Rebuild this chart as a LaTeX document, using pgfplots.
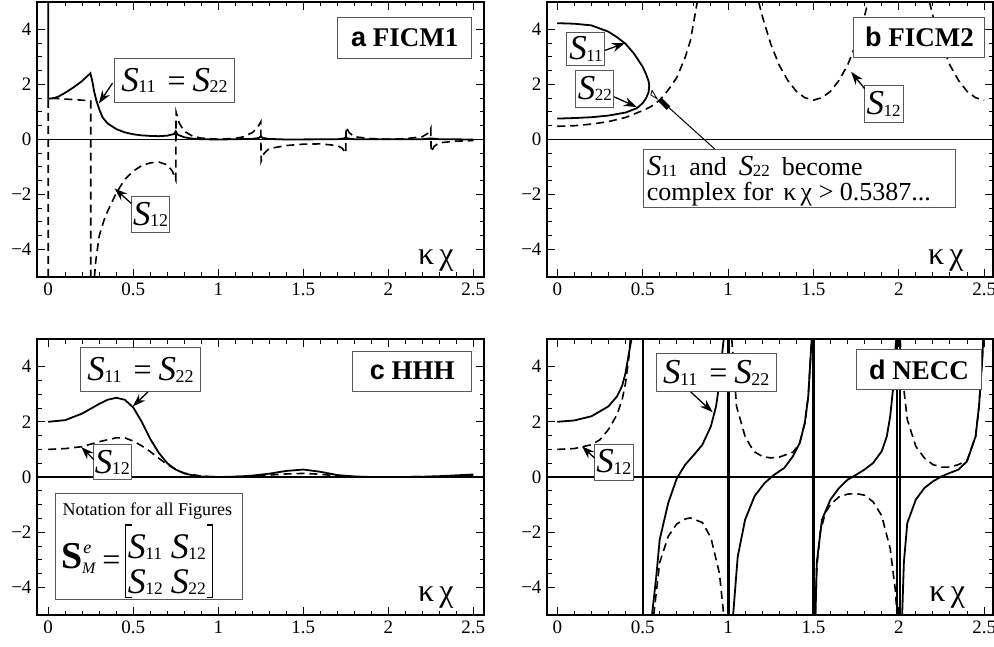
\documentclass[border=0pt]{standalone}
\usepackage{fontspec}
\setmainfont{Liberation Serif}
\newfontfamily\sansfont{Liberation Sans}
\usepackage{pgfplots}
\pgfplotsset{compat=1.18}
\usetikzlibrary{arrows.meta}

% italic S with upright subscript: #1 S size, #2 subscript size, #3 subscript
\newcommand{\Sv}[3]{{\fontsize{#1}{#1}\selectfont\textit{S}}\kern-0.5pt\raisebox{-1.5pt}{\fontsize{#2}{#2}\selectfont #3}}
\newcommand{\Seq}{\Sv{35}{18}{11}\hspace{12pt}{\fontsize{32}{32}\selectfont =}\hspace{7pt}\Sv{35}{18}{22}}
\newcommand{\kx}{{\fontsize{32}{32}\selectfont κ\,χ}}

\pgfplotsset{
 panel/.style={
  scale only axis, anchor=north west,
  xmin=-0.066, xmax=2.563, ymin=-5, ymax=5,
  xtick={0,0.5,1,1.5,2,2.5}, xticklabels={0,0.5,1,1.5,2,2.5},
  ytick={-4,-2,0,2,4}, yticklabels={−4,−2,0,2,4},
  minor x tick num=4, minor y tick num=3,
  tick align=inside, major tick length=8pt, minor tick length=4.5pt,
  tick style={black, line width=1pt},
  axis line style={line width=1.5pt},
  ticklabel style={font=\fontsize{19}{19}\selectfont},
  xticklabel style={yshift=-2pt}, yticklabel style={xshift=-2pt},
 },
}
\tikzset{
 sol/.style={black, solid, line width=1.8pt},
 das/.style={black, dash pattern=on 8pt off 5pt, line width=1.6pt},
 lbl/.style={draw=black!65, line width=1pt, fill=white, inner sep=0pt, align=center},
 arr/.style={-{Stealth[length=13pt,width=9pt]}, line width=1.3pt},
 bw/.style={anchor=base west, inner sep=0pt},
}

\begin{document}
\begin{tikzpicture}
\useasboundingbox (0,0) rectangle (994pt,-647pt);

% ---------------- a FICM1 ----------------
\begin{axis}[panel, at={(37pt,-2pt)}, width=447pt, height=275pt]
\draw[line width=1.1pt] (rel axis cs:0,0.5) -- (rel axis cs:1,0.5);
\addplot[sol] coordinates {(0,5) (0,1.48) (0.03,1.5) (0.06,1.56) (0.1,1.7) (0.15,1.9) (0.2,2.13) (0.248,2.41) (0.26,2.1) (0.27,1.75) (0.283,1.42) (0.3,1.1) (0.32,0.80) (0.35,0.58) (0.4,0.38) (0.45,0.26) (0.5,0.19) (0.55,0.15) (0.6,0.13) (0.65,0.12) (0.7,0.14) (0.74,0.2) (0.75,0.3) (0.76,0.18) (0.8,0.08) (0.85,0.03) (0.9,0.01) (1.0,0.0) (1.2,0.02) (1.24,0.06) (1.25,0.12) (1.26,0.06) (1.3,0.02) (1.4,0.0) (1.7,0.01) (1.74,0.04) (1.75,0.08) (1.76,0.04) (1.8,0.01) (2.2,0.01) (2.25,0.04) (2.3,0.01) (2.5,0.0)};
\addplot[das] coordinates {(0,-5) (0,1.5) (0.05,1.49) (0.1,1.47) (0.15,1.45) (0.2,1.43) (0.25,1.4) (0.25,-5)};
\addplot[das] coordinates {(0.272,-5) (0.28,-4.4) (0.3,-3.5) (0.33,-2.9) (0.35,-2.6) (0.4,-1.95) (0.45,-1.45) (0.5,-1.15) (0.55,-0.95) (0.6,-0.85) (0.65,-0.82) (0.7,-0.92) (0.73,-1.15) (0.75,-1.47) (0.752,1.0) (0.77,0.6) (0.8,0.3) (0.85,0.12) (0.9,0.05) (1.0,0.01) (1.1,0.04) (1.15,0.1) (1.2,0.25) (1.23,0.42) (1.25,0.64) (1.252,-0.8) (1.27,-0.5) (1.3,-0.33) (1.4,-0.22) (1.5,-0.17) (1.6,-0.16) (1.7,-0.22) (1.73,-0.32) (1.75,-0.5) (1.752,0.45) (1.77,0.25) (1.8,0.1) (1.9,0.03) (2.0,0.01) (2.1,0.03) (2.2,0.1) (2.24,0.25) (2.25,0.4) (2.252,-0.45) (2.27,-0.25) (2.3,-0.12) (2.4,-0.06) (2.5,-0.04)};
\node[lbl, minimum width=120pt, minimum height=44pt] at (axis cs:0.743,2.15) {\Seq};
\draw[arr] (axis cs:0.378,2.05) -- (axis cs:0.298,1.31);
\node[lbl, minimum width=38pt, minimum height=36pt] at (axis cs:0.602,-2.72) {\Sv{35}{18}{12}};
\draw[arr] (axis cs:0.488,-2.32) -- (axis cs:0.39,-1.78);
\node[lbl, minimum width=134pt, minimum height=41pt] at (axis cs:2.097,3.70) {\fontsize{27}{27}\selectfont{\sansfont\bfseries a} \textbf{FICM1}};
\node at (axis cs:2.28,-4.42) {\kx};
\end{axis}

% ---------------- b FICM2 ----------------
\begin{axis}[panel, at={(547pt,-2pt)}, width=446pt, height=275pt, xmin=-0.06, xmax=2.552]
\draw[line width=1.1pt] (rel axis cs:0,0.5) -- (rel axis cs:1,0.5);
\addplot[sol] coordinates {(0,4.23) (0.1,4.21) (0.2,4.15) (0.3,3.92) (0.35,3.72) (0.4,3.48) (0.45,3.12) (0.5,2.65) (0.52,2.38) (0.535,2.12) (0.5387,1.95) (0.535,1.72) (0.52,1.50) (0.5,1.32) (0.467,1.14) (0.4,0.98) (0.3,0.87) (0.2,0.81) (0.1,0.78) (0,0.76)};
\addplot[das] coordinates {(0,0.48) (0.1,0.5) (0.2,0.56) (0.3,0.65) (0.4,0.8) (0.5,1.05) (0.55,1.2) (0.6,1.43) (0.65,1.8) (0.7,2.25) (0.75,3.0) (0.78,3.6) (0.8,4.3) (0.82,5.0)};
\addplot[das] coordinates {(1.18,5.0) (1.2,4.5) (1.25,3.48) (1.3,2.7) (1.35,2.15) (1.4,1.75) (1.45,1.52) (1.5,1.43) (1.55,1.52) (1.6,1.75) (1.65,2.15) (1.7,2.7) (1.75,3.48) (1.8,4.5) (1.82,5.0)};
\addplot[das] coordinates {(2.18,5.0) (2.2,4.5) (2.25,3.48) (2.3,2.7) (2.35,2.15) (2.4,1.75) (2.45,1.52) (2.5,1.43)};
\node[lbl, minimum width=38pt, minimum height=33pt] at (axis cs:0.168,3.30) {\Sv{35}{17}{11}};
\draw[arr] (axis cs:0.28,3.24) -- (axis cs:0.397,3.51);
\node[lbl, minimum width=38pt, minimum height=37pt] at (axis cs:0.22,1.85) {\Sv{35}{17}{22}};
\draw[arr] (axis cs:0.333,1.55) -- (axis cs:0.466,1.18);
\node[lbl, minimum width=39pt, minimum height=37pt] at (axis cs:1.911,1.30) {\Sv{35}{17}{12}};
\draw[arr] (axis cs:1.80,1.85) -- (axis cs:1.721,2.46);
\node[lbl, minimum width=131pt, minimum height=40pt] at (axis cs:2.121,3.72) {\fontsize{27}{27}\selectfont{\sansfont\bfseries b} \textbf{FICM2}};
\draw[line width=1pt] (axis cs:0.923,-0.35) -- (axis cs:0.60,1.46);
\draw[line width=5pt] (axis cs:0.652,1.14) -- (axis cs:0.60,1.46);
\draw[line width=0.8pt, fill=white] (axis cs:0.585,1.48) -- (axis cs:0.555,1.78) -- (axis cs:0.548,1.62) -- cycle;
\node[lbl, minimum width=312pt, minimum height=58pt] at (axis cs:1.418,-1.406) {};
\node[bw] at (axis cs:0.524,-1.297) {\fontsize{26}{26}\selectfont \Sv{29}{17}{11}\hspace{12pt}and\hspace{12pt}\Sv{29}{17}{22}\hspace{12pt}become};
\node[bw] at (axis cs:0.524,-2.205) {\fontsize{26}{26}\selectfont complex for\hspace{10pt}κ\,χ > 0.5387...};
\node at (axis cs:2.276,-4.42) {\kx};
\end{axis}

% ---------------- c HHH ----------------
\begin{axis}[panel, at={(37pt,-339pt)}, width=447pt, height=276pt]
\draw[line width=1.1pt] (rel axis cs:0,0.5) -- (rel axis cs:1,0.5);
\addplot[sol] coordinates {(0,2.0) (0.1,2.06) (0.2,2.3) (0.3,2.65) (0.35,2.8) (0.4,2.87) (0.45,2.8) (0.5,2.52) (0.55,2.0) (0.6,1.38) (0.65,0.88) (0.7,0.5) (0.75,0.27) (0.8,0.13) (0.85,0.06) (0.9,0.02) (1.0,0.0) (1.1,0.01) (1.2,0.05) (1.3,0.12) (1.4,0.22) (1.5,0.27) (1.6,0.19) (1.7,0.07) (1.8,0.02) (1.9,0.0) (2.0,0.0) (2.1,0.0) (2.2,0.01) (2.3,0.03) (2.4,0.06) (2.5,0.09)};
\addplot[das] coordinates {(0,1.0) (0.1,1.03) (0.2,1.1) (0.3,1.28) (0.4,1.42) (0.45,1.42) (0.5,1.3) (0.55,1.13) (0.6,0.92) (0.65,0.68) (0.7,0.45) (0.75,0.27) (0.8,0.14) (0.9,0.03) (1.0,0.0) (1.2,0.03) (1.3,0.07) (1.4,0.11) (1.5,0.13) (1.6,0.1) (1.7,0.04) (1.8,0.01) (2.0,0.0) (2.2,0.01) (2.4,0.03) (2.5,0.05)};
\node[lbl, minimum width=120pt, minimum height=44pt] at (axis cs:0.543,3.88) {\Seq};
\draw[arr] (axis cs:0.586,3.08) -- (axis cs:0.498,2.56);
\node[lbl, minimum width=38pt, minimum height=35pt] at (axis cs:0.378,0.53) {\Sv{35}{18}{12}};
\draw[arr] (axis cs:0.268,0.63) -- (axis cs:0.194,1.09);
\node[lbl, minimum width=119pt, minimum height=40pt] at (axis cs:2.141,3.84) {\fontsize{27}{27}\selectfont{\sansfont\bfseries c} \textbf{HHH}};
% notation box
\node[lbl, minimum width=187pt, minimum height=106pt] at (axis cs:0.593,-2.516) {};
\node[bw] at (axis cs:0.0842,-1.378) {\fontsize{18}{18}\selectfont Notation for all Figures};
\node[bw] at (axis cs:0.0783,-3.30) {\fontsize{38}{38}\selectfont\bfseries S};
\node[bw] at (axis cs:0.205,-2.756) {\fontsize{18}{18}\selectfont\itshape e};
\node[bw] at (axis cs:0.198,-3.481) {\fontsize{16}{16}\selectfont\itshape M};
\node[bw] at (axis cs:0.318,-3.394) {\fontsize{32}{32}\selectfont =};
\draw[line width=1.1pt] (axis cs:0.490,-1.740) -- (axis cs:0.455,-1.740) -- (axis cs:0.455,-4.351) -- (axis cs:0.490,-4.351);
\draw[line width=1.1pt] (axis cs:0.932,-1.740) -- (axis cs:0.967,-1.740) -- (axis cs:0.967,-4.351) -- (axis cs:0.932,-4.351);
\node[bw] at (axis cs:0.467,-2.937) {\Sv{36}{17.5}{11}};
\node[bw] at (axis cs:0.720,-2.937) {\Sv{36}{17.5}{12}};
\node[bw] at (axis cs:0.467,-4.206) {\Sv{36}{17.5}{12}};
\node[bw] at (axis cs:0.720,-4.206) {\Sv{36}{17.5}{22}};
\node at (axis cs:2.28,-4.35) {\kx};
\end{axis}

% ---------------- d NECC ----------------
\begin{axis}[panel, at={(547pt,-339pt)}, width=446pt, height=276pt, xmin=-0.06, xmax=2.552]
\draw[line width=1.1pt] (rel axis cs:0,0.5) -- (rel axis cs:1,0.5);
\addplot[sol] coordinates {(0,2.0) (0.1,2.05) (0.2,2.2) (0.3,2.56) (0.35,2.92) (0.38,3.3) (0.4,3.77) (0.42,4.5) (0.435,5.0)};
\addplot[sol] coordinates {(0.502,-5) (0.502,5)};
\addplot[sol] coordinates {(0.555,-5) (0.58,-3.6) (0.6,-2.27) (0.65,-0.94) (0.7,-0.05) (0.75,0.45) (0.8,0.8) (0.85,1.17) (0.9,1.84) (0.93,2.56) (0.95,3.4) (0.96,4.13) (0.975,5.0)};
\addplot[sol] coordinates {(0.997,-5) (0.997,5)};
\addplot[sol] coordinates {(1.004,-5) (1.004,5)};
\addplot[sol] coordinates {(1.03,-5) (1.057,-2.88) (1.1,-1.55) (1.155,-0.7) (1.214,-0.22) (1.27,0.08) (1.33,0.33) (1.38,0.75) (1.42,1.23) (1.45,1.96) (1.47,2.92) (1.484,4.37) (1.49,5)};
\addplot[sol] coordinates {(1.498,-5) (1.498,5)};
\addplot[sol] coordinates {(1.504,-5) (1.504,5)};
\addplot[sol] coordinates {(1.512,-5) (1.52,-3.1) (1.55,-1.55) (1.6,-0.82) (1.65,-0.4) (1.7,-0.1) (1.75,0.08) (1.8,0.27) (1.85,0.51) (1.9,0.93) (1.93,1.47) (1.95,2.2) (1.97,3.4) (1.98,4.6) (1.985,5.0)};
\addplot[sol] coordinates {(1.99,-5) (1.99,5)};
\addplot[sol] coordinates {(2.008,-5) (2.008,5)};
\addplot[sol] coordinates {(2.02,-5) (2.03,-3.1) (2.05,-1.67) (2.1,-0.82) (2.15,-0.4) (2.2,-0.16) (2.25,0.02) (2.3,0.15) (2.35,0.27) (2.4,0.57) (2.45,1.47) (2.47,2.56) (2.49,4.37) (2.495,5.0)};
\addplot[das] coordinates {(0,1.0) (0.1,1.03) (0.2,1.17) (0.25,1.35) (0.3,1.72) (0.35,2.26) (0.38,2.8) (0.4,3.4) (0.42,4.37) (0.428,5.0)};
\addplot[das] coordinates {(0.565,-5) (0.6,-3.1) (0.65,-2.15) (0.7,-1.7) (0.75,-1.52) (0.78,-1.48) (0.85,-1.65) (0.9,-2.2) (0.95,-3.5) (0.975,-5)};
\addplot[das] coordinates {(1.022,5.0) (1.05,2.56) (1.1,1.47) (1.15,0.93) (1.2,0.75) (1.25,0.69) (1.3,0.72) (1.35,0.83) (1.38,0.9) (1.4,1.05) (1.42,1.23) (1.45,1.96) (1.47,2.92) (1.484,4.37) (1.49,5)};
\addplot[das] coordinates {(1.512,-5) (1.52,-3.3) (1.54,-2.0) (1.57,-1.3) (1.6,-1.0) (1.65,-0.72) (1.7,-0.62) (1.75,-0.6) (1.8,-0.66) (1.85,-0.9) (1.9,-1.4) (1.95,-2.6) (1.98,-4.1) (1.99,-5)};
\addplot[das] coordinates {(2.008,5) (2.03,3.17) (2.05,2.08) (2.1,1.11) (2.15,0.69) (2.2,0.45) (2.25,0.36) (2.3,0.36) (2.35,0.45) (2.4,0.6) (2.45,1.47) (2.47,2.56) (2.49,4.37) (2.495,5.0)};
\node[lbl, minimum width=120pt, minimum height=38pt] at (axis cs:0.931,3.77) {\Seq};
\draw[arr] (axis cs:0.782,3.08) -- (axis cs:0.91,2.35);
\node[lbl, minimum width=39pt, minimum height=36pt] at (axis cs:0.331,0.54) {\Sv{35}{18}{12}};
\draw[arr] (axis cs:0.218,0.69) -- (axis cs:0.145,1.11);
\node[lbl, minimum width=125pt, minimum height=40pt] at (axis cs:2.119,3.88) {\fontsize{27}{27}\selectfont{\sansfont\bfseries d} \textbf{NECC}};
\node at (axis cs:2.284,-4.35) {\kx};
\end{axis}
\end{tikzpicture}
\end{document}
